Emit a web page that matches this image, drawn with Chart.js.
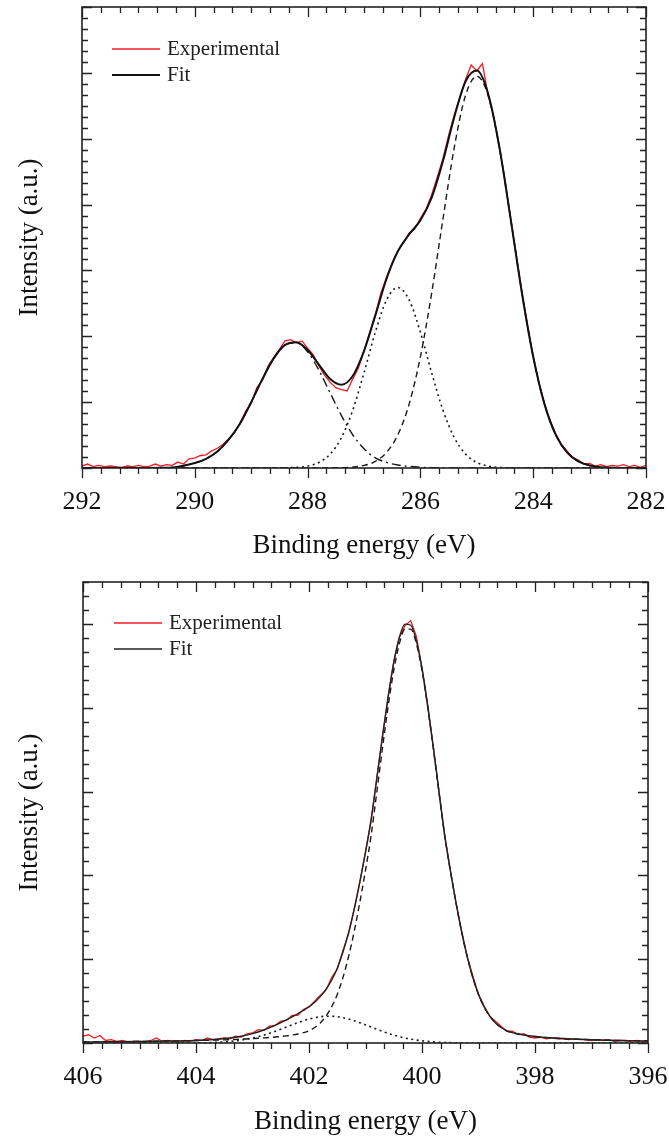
<!DOCTYPE html>
<html>
<head>
<meta charset="utf-8">
<title>XPS C1s / N1s</title>
<script src="https://cdn.jsdelivr.net/npm/chart.js@4.4.1/dist/chart.umd.min.js"></script>
<style>
  html, body { margin: 0; padding: 0; background: #fff; }
  canvas { display: block; }
</style>
</head>
<body>
<canvas id="c1s" width="669" height="565"></canvas>
<canvas id="n1s" width="669" height="574"></canvas>
<script>
// ---- C1s (top panel) ----
const c1sRange = [282, 292];
const c1sGrid = [292.0, 291.8, 291.6, 291.4, 291.2, 291.0, 290.8, 290.6, 290.4, 290.2,
  290.0, 289.8, 289.6, 289.4, 289.2, 289.0, 288.8, 288.6, 288.4, 288.2,
  288.0, 287.8, 287.6, 287.4, 287.2, 287.0, 286.8, 286.6, 286.4, 286.2,
  286.0, 285.8, 285.6, 285.4, 285.2, 285.0, 284.8, 284.6, 284.4, 284.2,
  284.0, 283.8, 283.6, 283.4, 283.2, 283.0, 282.8, 282.6, 282.4, 282.2, 282.0];
const c1sFit = [0, 0, 0, 0, 0, 0.001, 0.001, 0.003, 0.008, 0.035,
  0.075, 0.14, 0.25, 0.43, 0.671, 0.999, 1.353, 1.665, 1.869, 1.911,
  1.792, 1.571, 1.351, 1.264, 1.396, 1.775, 2.314, 2.874, 3.289, 3.547,
  3.762, 4.107, 4.661, 5.327, 5.869, 6.034, 5.687, 4.873, 3.784, 2.657,
  1.689, 0.970, 0.504, 0.237, 0.100, 0.039, 0.013, 0.004, 0, 0, 0];
const c1sPeak288 = [0, 0, 0, 0, 0, 0.001, 0.001, 0.003, 0.008, 0.035,
  0.075, 0.14, 0.25, 0.43, 0.671, 0.999, 1.353, 1.665, 1.866, 1.902,
  1.763, 1.487, 1.140, 0.796, 0.505, 0.292, 0.153, 0.085, 0.045, 0.025,
  0.012, 0.006, 0.003, 0, 0, 0, 0, 0, 0, 0,
  0, 0, 0, 0, 0, 0, 0, 0, 0, 0, 0];
const c1sPeak286 = [0, 0, 0, 0, 0, 0, 0, 0, 0, 0,
  0, 0, 0, 0, 0, 0, 0, 0, 0.003, 0.009,
  0.029, 0.084, 0.211, 0.463, 0.877, 1.444, 2.061, 2.552, 2.74, 2.552,
  2.061, 1.444, 0.877, 0.463, 0.211, 0.084, 0.029, 0.009, 0.003, 0,
  0, 0, 0, 0, 0, 0, 0, 0, 0, 0, 0];
const c1sPeak285 = [0, 0, 0, 0, 0, 0, 0, 0, 0, 0,
  0, 0, 0, 0, 0, 0, 0, 0, 0, 0,
  0, 0, 0, 0.005, 0.014, 0.039, 0.10, 0.237, 0.504, 0.970,
  1.689, 2.657, 3.781, 4.864, 5.658, 5.95, 5.658, 4.864, 3.781, 2.657,
  1.689, 0.970, 0.504, 0.237, 0.100, 0.039, 0.013, 0.004, 0, 0, 0];
const c1sExpEnergy = [292.0, 291.9, 291.8, 291.7, 291.6, 291.5, 291.4, 291.3, 291.2, 291.1,
  291.0, 290.9, 290.8, 290.7, 290.6, 290.5, 290.4, 290.3, 290.2, 290.1,
  290.0, 289.9, 289.8, 289.7, 289.6, 289.5, 289.4, 289.3, 289.2, 289.1,
  289.0, 288.9, 288.8, 288.7, 288.6, 288.5, 288.4, 288.3, 288.2, 288.1,
  288.0, 287.9, 287.8, 287.7, 287.6, 287.5, 287.4, 287.3, 287.2, 287.1,
  287.0, 286.9, 286.8, 286.7, 286.6, 286.5, 286.4, 286.3, 286.2, 286.1,
  286.0, 285.9, 285.8, 285.7, 285.6, 285.5, 285.4, 285.3, 285.2, 285.1,
  285.0, 284.9, 284.8, 284.7, 284.6, 284.5, 284.4, 284.3, 284.2, 284.1,
  284.0, 283.9, 283.8, 283.7, 283.6, 283.5, 283.4, 283.3, 283.2, 283.1,
  283.0, 282.9, 282.8, 282.7, 282.6, 282.5, 282.4, 282.3, 282.2, 282.1, 282.0];
const c1sExp = [0.03, 0.06, 0.02, 0.04, 0.02, 0.03, 0.02, 0.01, 0.03, 0.02,
  0.04, 0.02, 0.03, 0.06, 0.03, 0.05, 0.04, 0.09, 0.06, 0.14,
  0.15, 0.19, 0.20, 0.26, 0.30, 0.36, 0.44, 0.53, 0.68, 0.86,
  0.98, 1.22, 1.33, 1.55, 1.68, 1.80, 1.93, 1.95, 1.90, 1.93,
  1.82, 1.72, 1.55, 1.41, 1.30, 1.22, 1.19, 1.17, 1.35, 1.52,
  1.78, 2.06, 2.33, 2.66, 2.90, 3.12, 3.30, 3.42, 3.57, 3.63,
  3.79, 3.93, 4.15, 4.42, 4.70, 5.05, 5.36, 5.62, 5.90, 6.12,
  6.03, 6.14, 5.66, 5.34, 4.88, 4.38, 3.80, 3.24, 2.68, 2.17,
  1.70, 1.30, 0.98, 0.72, 0.52, 0.36, 0.26, 0.16, 0.12, 0.06,
  0.07, 0.03, 0.05, 0.02, 0.04, 0.03, 0.05, 0.02, 0.04, 0.01, 0.04];

// ---- N1s (bottom panel) ----
const n1sRange = [396, 406];
const n1sGrid = [406.0, 405.5, 405.0, 404.5, 404.0, 403.8, 403.6, 403.4, 403.2, 403.0,
  402.8, 402.6, 402.4, 402.3, 402.2, 402.1, 402.0, 401.9, 401.8, 401.7,
  401.6, 401.5, 401.4, 401.3, 401.2, 401.1, 401.0, 400.9, 400.8, 400.7,
  400.6, 400.5, 400.4, 400.3, 400.2, 400.1, 400.0, 399.9, 399.8, 399.7,
  399.6, 399.5, 399.4, 399.3, 399.2, 399.1, 399.0, 398.9, 398.8, 398.7,
  398.6, 398.5, 398.4, 398.2, 398.0, 397.6, 397.0, 396.5, 396.0];
const n1sFit = [0.013, 0.015, 0.018, 0.023, 0.029, 0.036, 0.045, 0.059, 0.081, 0.111,
  0.155, 0.210, 0.275, 0.311, 0.349, 0.388, 0.432, 0.487, 0.553, 0.639,
  0.749, 0.893, 1.082, 1.316, 1.595, 1.922, 2.276, 2.670, 3.158, 3.656,
  4.129, 4.540, 4.841, 4.997, 4.984, 4.801, 4.472, 4.033, 3.530, 3.003,
  2.486, 2.064, 1.682, 1.330, 1.030, 0.780, 0.580, 0.430, 0.320, 0.240,
  0.185, 0.146, 0.123, 0.095, 0.077, 0.056, 0.038, 0.029, 0.023];
const n1sPeakMain = [0.013, 0.015, 0.018, 0.023, 0.029, 0.032, 0.036, 0.040, 0.046, 0.052,
  0.061, 0.071, 0.085, 0.095, 0.107, 0.123, 0.146, 0.185, 0.240, 0.320,
  0.430, 0.580, 0.780, 1.030, 1.330, 1.680, 2.060, 2.48, 2.994, 3.517,
  4.014, 4.446, 4.766, 4.938, 4.938, 4.766, 4.446, 4.014, 3.517, 2.994,
  2.48, 2.060, 1.680, 1.330, 1.030, 0.780, 0.580, 0.430, 0.320, 0.240,
  0.185, 0.146, 0.123, 0.095, 0.077, 0.056, 0.038, 0.029, 0.023];
const n1sPeakMinor = [0, 0, 0, 0, 0, 0.004, 0.009, 0.019, 0.035, 0.059,
  0.094, 0.139, 0.190, 0.216, 0.242, 0.265, 0.286, 0.302, 0.313, 0.319,
  0.319, 0.313, 0.302, 0.286, 0.265, 0.242, 0.216, 0.190, 0.164, 0.139,
  0.115, 0.094, 0.075, 0.059, 0.046, 0.035, 0.026, 0.019, 0.013, 0.009,
  0.006, 0.004, 0.002, 0, 0, 0, 0, 0, 0, 0,
  0, 0, 0, 0, 0, 0, 0, 0, 0];
const n1sExpEnergy = [406.0, 405.9, 405.8, 405.7, 405.6, 405.5, 405.4, 405.3, 405.2, 405.1,
  405.0, 404.9, 404.8, 404.7, 404.6, 404.5, 404.4, 404.3, 404.2, 404.1,
  404.0, 403.9, 403.8, 403.7, 403.6, 403.5, 403.4, 403.3, 403.2, 403.1,
  403.0, 402.9, 402.8, 402.7, 402.6, 402.5, 402.4, 402.3, 402.2, 402.1,
  402.0, 401.9, 401.8, 401.7, 401.6, 401.5, 401.4, 401.3, 401.2, 401.1,
  401.0, 400.9, 400.8, 400.7, 400.6, 400.5, 400.4, 400.3, 400.2, 400.1,
  400.0, 399.9, 399.8, 399.7, 399.6, 399.5, 399.4, 399.3, 399.2, 399.1,
  399.0, 398.9, 398.8, 398.7, 398.6, 398.5, 398.4, 398.3, 398.2, 398.1,
  398.0, 397.9, 397.8, 397.7, 397.6, 397.5, 397.4, 397.3, 397.2, 397.1,
  397.0, 396.9, 396.8, 396.7, 396.6, 396.5, 396.4, 396.3, 396.2, 396.1, 396.0];
const n1sExp = [0.08, 0.10, 0.06, 0.09, 0.03, 0.04, 0.02, 0.03, 0.01, 0.02,
  0.02, 0.01, 0.03, 0.06, 0.02, 0.03, 0.02, 0.01, 0.03, 0.02,
  0.04, 0.03, 0.06, 0.04, 0.05, 0.06, 0.05, 0.08, 0.07, 0.11,
  0.12, 0.16, 0.15, 0.20, 0.21, 0.26, 0.27, 0.33, 0.33, 0.40,
  0.43, 0.50, 0.57, 0.63, 0.78, 0.88, 1.10, 1.30, 1.60, 1.92,
  2.28, 2.65, 3.16, 3.66, 4.12, 4.55, 4.84, 4.98, 5.04, 4.85,
  4.47, 4.02, 3.53, 3.00, 2.49, 2.07, 1.68, 1.34, 1.03, 0.80,
  0.58, 0.44, 0.32, 0.26, 0.20, 0.14, 0.14, 0.10, 0.11, 0.07,
  0.06, 0.07, 0.05, 0.06, 0.05, 0.05, 0.04, 0.05, 0.04, 0.04,
  0.03, 0.04, 0.03, 0.04, 0.02, 0.03, 0.03, 0.02, 0.03, 0.02, 0.03];

const SERIF = "'Liberation Serif', 'Times New Roman', serif";
const RED = "#ee1c24";

function pts(xs, ys) {
  return xs.map((x, i) => ({ x: x, y: ys[i] }));
}

// frame with inward ticks (top/left/right) and outward ticks on the bottom axis
const frameTicks = {
  id: "frameTicks",
  afterDatasetsDraw(chart) {
    const { ctx, chartArea: a, scales } = chart;
    const x = scales.x, y = scales.y;
    ctx.save();
    ctx.setLineDash([]);
    ctx.strokeStyle = "#222";
    ctx.lineWidth = 1.6;
    ctx.strokeRect(a.left, a.top, a.right - a.left, a.bottom - a.top);
    ctx.lineWidth = 1.3;
    ctx.beginPath();
    const nx = Math.round((x.max - x.min) * 3);
    for (let i = 0; i <= nx; i++) {
      const px = Math.round(x.getPixelForValue(x.min + i / 3)) + 0.5;
      const len = i % 6 === 0 ? 10 : 6;
      ctx.moveTo(px, a.bottom);
      ctx.lineTo(px, a.bottom + len);
      ctx.moveTo(px, a.top);
      ctx.lineTo(px, a.top + len);
    }
    const ny = Math.round((y.max - y.min) * 6);
    for (let j = 0; j <= ny; j++) {
      const py = Math.round(y.getPixelForValue(y.min + j / 6)) + 0.5;
      const len = j % 6 === 0 ? 10 : 6;
      ctx.moveTo(a.left, py);
      ctx.lineTo(a.left + len, py);
      ctx.moveTo(a.right, py);
      ctx.lineTo(a.right - len, py);
    }
    ctx.stroke();
    ctx.restore();
  }
};

// legend drawn inside the plot, upper left
const innerLegend = {
  id: "innerLegend",
  afterDraw(chart, args, opts) {
    const ctx = chart.ctx;
    ctx.save();
    ctx.font = opts.fontSize + "px " + SERIF;
    ctx.textBaseline = "middle";
    ctx.fillStyle = "#222";
    const items = chart.data.datasets.filter(d => d.inLegend)
      .sort((p, q) => p.legendOrder - q.legendOrder);
    items.forEach((d, i) => {
      const yy = opts.y + i * opts.gap;
      ctx.strokeStyle = d.borderColor;
      ctx.lineWidth = d.borderWidth;
      ctx.setLineDash([]);
      ctx.beginPath();
      ctx.moveTo(opts.x, yy);
      ctx.lineTo(opts.x + opts.len, yy);
      ctx.stroke();
      ctx.fillText(d.label, opts.x + opts.len + 7, yy);
    });
    ctx.restore();
  }
};

function makePanel(id, cfg) {
  const canvas = document.getElementById(id);
  return new Chart(canvas.getContext("2d"), {
    type: "line",
    data: {
      datasets: [
        { label: "Fit", inLegend: true, legendOrder: 2, data: pts(cfg.grid, cfg.fit),
          borderColor: cfg.fitColor, borderWidth: cfg.fitWidth, cubicInterpolationMode: "monotone" },
        ...cfg.components.map(c => ({
          label: c.label, data: pts(cfg.grid, c.values), borderColor: "#1a1a1a",
          borderWidth: c.width, borderDash: c.dash, cubicInterpolationMode: "monotone"
        })),
        { label: "Experimental", inLegend: true, legendOrder: 1, data: pts(cfg.expX, cfg.exp),
          borderColor: RED, borderWidth: 1.3, tension: 0 }
      ]
    },
    options: {
      responsive: false,
      animation: false,
      devicePixelRatio: 1,
      events: [],
      elements: { point: { radius: 0 } },
      layout: { padding: { left: 0, top: cfg.top, right: cfg.right, bottom: 0 } },
      scales: {
        x: {
          type: "linear",
          reverse: true,
          min: cfg.range[0],
          max: cfg.range[1],
          grid: { display: false, drawTicks: false },
          border: { display: false },
          ticks: { stepSize: 2, padding: 19, color: "#111", font: { family: SERIF, size: 26 } },
          title: { display: true, text: "Binding energy (eV)", color: "#111",
                   padding: { top: 0, bottom: cfg.titlePad }, font: { family: SERIF, size: 27 } },
          afterFit(s) { s.height = cfg.xHeight; s.paddingLeft = 0; s.paddingRight = 0; }
        },
        y: {
          min: 0,
          max: cfg.yMax,
          grid: { display: false, drawTicks: false },
          border: { display: false },
          ticks: { display: false },
          title: { display: true, text: "Intensity (a.u.)", color: "#111",
                   padding: { top: 14, bottom: 0 }, font: { family: SERIF, size: 27 } },
          afterFit(s) { s.width = cfg.left; s.paddingTop = 0; s.paddingBottom = 0; }
        }
      },
      plugins: {
        legend: { display: false },
        tooltip: { enabled: false },
        innerLegend: cfg.legend
      }
    },
    plugins: [frameTicks, innerLegend]
  });
}

makePanel("c1s", {
  range: c1sRange, yMax: 7, grid: c1sGrid, fit: c1sFit, expX: c1sExpEnergy, exp: c1sExp,
  components: [
    { label: "C-C", values: c1sPeak285, dash: [6, 4], width: 1.4 },
    { label: "C-O", values: c1sPeak286, dash: [2, 3.5], width: 1.6 },
    { label: "O-C=O", values: c1sPeak288, dash: [9, 4, 2, 4], width: 1.4 }
  ],
  fitColor: "#111", fitWidth: 2, top: 7, right: 23, left: 82, xHeight: 97, titlePad: 3,
  legend: { x: 112, y: 49, gap: 26, len: 48, fontSize: 21 }
});

makePanel("n1s", {
  range: n1sRange, yMax: 5.5, grid: n1sGrid, fit: n1sFit, expX: n1sExpEnergy, exp: n1sExp,
  components: [
    { label: "N main", values: n1sPeakMain, dash: [6, 4], width: 1.4 },
    { label: "N minor", values: n1sPeakMinor, dash: [2, 3.5], width: 1.6 }
  ],
  fitColor: "#222", fitWidth: 1.4, top: 17, right: 21, left: 83, xHeight: 96, titlePad: 1,
  legend: { x: 114, y: 58, gap: 26, len: 48, fontSize: 21 }
});
</script>
</body>
</html>
